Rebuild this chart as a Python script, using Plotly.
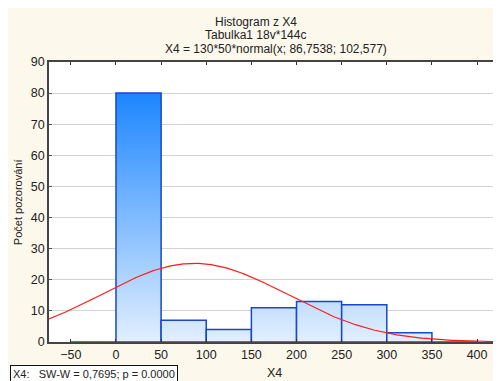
import numpy as np
import plotly.graph_objects as go

# ---- data ----
bin_lower = [-50, 0, 50, 100, 150, 200, 250, 300, 350]
bin_width = 50
counts = [0, 80, 7, 4, 11, 13, 12, 3, 0]
n_obs = 130
fit_mean = 86.7538
fit_sd = 102.577
x_ticks = [-50, 0, 50, 100, 150, 200, 250, 300, 350, 400]
y_ticks = [0, 10, 20, 30, 40, 50, 60, 70, 80, 90]

# page has 8px body margin, so figure coords = reference coords - 8
OFF = 8
W, H = 501, 381
L, T = 49 - OFF, 62 - OFF
PLOT_RIGHT, PLOT_BOTTOM = 502 - OFF, 342 - OFF
R, B = W - PLOT_RIGHT, H - PLOT_BOTTOM
PW, PH = PLOT_RIGHT - L, PLOT_BOTTOM - T

def px(x):
    return (x - OFF - L) / PW

def py(y):
    return (PLOT_BOTTOM - (y - OFF)) / PH

fig = go.Figure()

grad = dict(type="vertical", colorscale=[[0, "#E2EFFF"], [1, "#1C86FF"]], start=0, stop=80)
for lo, c in zip(bin_lower, counts):
    hi = lo + bin_width
    fig.add_trace(go.Scatter(
        x=[lo, lo, hi, hi, lo], y=[0, c, c, 0, 0],
        mode="lines", fill="toself", fillgradient=grad,
        line=dict(color="#1848C8", width=1.5),
        hoverinfo="skip", showlegend=False))

xs = np.linspace(-80, 430, 400)
ys = n_obs * bin_width * np.exp(-0.5 * ((xs - fit_mean) / fit_sd) ** 2) / (fit_sd * np.sqrt(2 * np.pi))
fig.add_trace(go.Scatter(x=xs, y=ys, mode="lines", line=dict(color="#FF1A1A", width=1.2),
                         hoverinfo="skip", showlegend=False))

FAM = "Liberation Sans, Arial, sans-serif"
font = dict(family=FAM, size=12.5, color="#222222")
tfont = dict(family=FAM, size=12, color="#222222")
sfont = dict(family=FAM, size=11, color="#222222")

fig.update_layout(
    width=W, height=H,
    margin=dict(l=L, r=R, t=T, b=B),
    paper_bgcolor="#FDF8EC",
    plot_bgcolor="white",
    font=font,
    showlegend=False,
    xaxis=dict(range=[-74.2, 425.4], tickvals=x_ticks, ticks="inside", ticklen=3,
               tickcolor="#333333", showline=True, linecolor="#444444", linewidth=1.5,
               mirror="ticks", showgrid=False, zeroline=False, tickfont=font),
    yaxis=dict(range=[0, 90], tickvals=y_ticks, ticks="inside", ticklen=3,
               tickcolor="#555555", showline=True, linecolor="#444444", linewidth=1.5,
               mirror="ticks", showgrid=True, gridcolor="#D3D3D3", gridwidth=1,
               zeroline=False, tickfont=font),
    annotations=[
        dict(text="Histogram z X4", x=px(256.7), y=py(21.5), xref="paper", yref="paper",
             xanchor="center", yanchor="middle", showarrow=False, font=tfont),
        dict(text="Tabulka1 18v*144c", x=px(256.7), y=py(35.3), xref="paper", yref="paper",
             xanchor="center", yanchor="middle", showarrow=False, font=tfont),
        dict(text="X4 = 130*50*normal(x; 86,7538; 102,577)", x=px(276.7), y=py(49.3),
             xref="paper", yref="paper", xanchor="center", yanchor="middle", showarrow=False, font=tfont),
        dict(text="Počet pozorování", x=px(18), y=py(202), xref="paper", yref="paper",
             textangle=-90, xanchor="center", yanchor="middle", showarrow=False, font=sfont),
        dict(text="X4", x=px(275), y=py(372.7), xref="paper", yref="paper",
             xanchor="center", yanchor="middle", showarrow=False, font=font),
        dict(text="X4:\u00a0\u00a0\u00a0SW-W = 0,7695; p = 0.0000", x=px(10), y=py(373.5),
             xref="paper", yref="paper", xanchor="left", yanchor="middle", showarrow=False,
             font=sfont, bgcolor="white", bordercolor="#111111", borderwidth=1, borderpad=2),
    ],
)

fig.write_html("out.html")
